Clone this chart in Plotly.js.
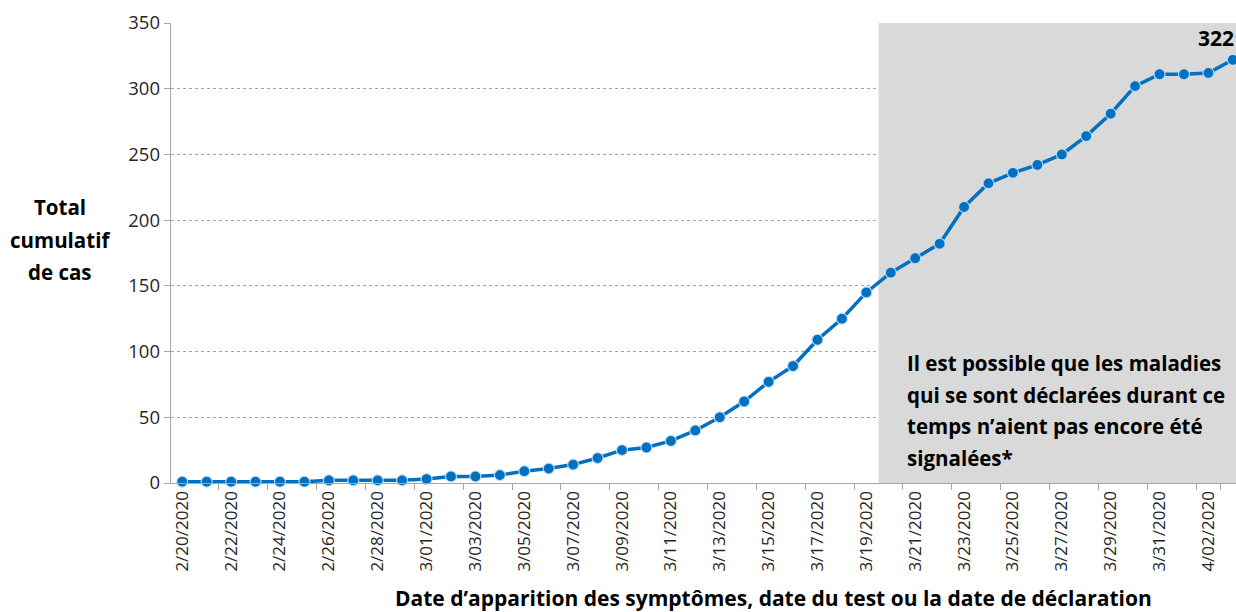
<!DOCTYPE html>
<html>
<head>
<meta charset="utf-8">
<script src="https://cdn.plot.ly/plotly-3.0.1.min.js"></script>
<style>html,body{margin:0;padding:0;background:#fff;}#chart{width:1236px;height:612px;}</style>
</head>
<body>
<div id="chart"></div>
<script>
const dates = ["2/20/2020","2/21/2020","2/22/2020","2/23/2020","2/24/2020","2/25/2020","2/26/2020","2/27/2020","2/28/2020","2/29/2020",
"3/01/2020","3/02/2020","3/03/2020","3/04/2020","3/05/2020","3/06/2020","3/07/2020","3/08/2020","3/09/2020","3/10/2020",
"3/11/2020","3/12/2020","3/13/2020","3/14/2020","3/15/2020","3/16/2020","3/17/2020","3/18/2020","3/19/2020","3/20/2020",
"3/21/2020","3/22/2020","3/23/2020","3/24/2020","3/25/2020","3/26/2020","3/27/2020","3/28/2020","3/29/2020","3/30/2020",
"3/31/2020","4/01/2020","4/02/2020","4/03/2020"];
const cumulativeCases = [1,1,1,1,1,1,2,2,2,2,
3,5,5,6,9,11,14,19,25,27,
32,40,50,62,77,89,109,125,145,160,
171,182,210,228,236,242,250,264,281,302,
311,311,312,322];
const yTicks = [0,50,100,150,200,250,300,350];
const yTitleLines = ["Total","cumulatif","de cas"];
const noteLines = ["Il est possible que les maladies","qui se sont déclarées durant ce","temps n’aient pas encore été","signalées*"];
const xTitle = "Date d’apparition des symptômes, date du test ou la date de déclaration";
const lastLabel = String(cumulativeCases[cumulativeCases.length-1]);
const shadeStart = "3/19/2020";

const FONT = "'Open Sans', 'Noto Sans', sans-serif";
const tickLabels = dates.filter((d,i)=>i%2===0);

const trace = {
  type: 'scatter', mode: 'lines+markers',
  x: dates, y: cumulativeCases,
  line: {color: '#0070C0', width: 3.5},
  marker: {color: '#0070C0', size: 11, line: {color: 'rgba(200,225,245,0.9)', width: 1.2}},
  cliponaxis: false, hoverinfo: 'x+y'
};

const annotations = [];
yTitleLines.forEach((t,i)=>{
  annotations.push({xref:'paper', yref:'paper', x:-0.104, y:1, yshift:-(207-23)-32.5*i, text:'<b>'+t+'</b>', showarrow:false,
    xanchor:'center', yanchor:'middle', font:{family:FONT, size:20.5, color:'#000'}});
});
noteLines.forEach((t,i)=>{
  annotations.push({xref:'paper', yref:'paper', x:(905-171)/1065, y:1, yshift:-(363-23)-31.6*i, text:'<b>'+t+'</b>', showarrow:false,
    xanchor:'left', yanchor:'middle', font:{family:FONT, size:20.5, color:'#000'}});
});
annotations.push({xref:'paper', yref:'paper', x:(773-171)/1065, y:0, yshift:-(598-483), text:'<b>'+xTitle+'</b>', showarrow:false,
  xanchor:'center', yanchor:'middle', font:{family:FONT, size:21, color:'#000'}});
annotations.push({xref:'x', yref:'y', x:dates[dates.length-1], y:cumulativeCases[cumulativeCases.length-1], yshift:22, xshift:-17,
  text:'<b>'+lastLabel+'</b>', showarrow:false, xanchor:'center', yanchor:'middle', font:{family:FONT, size:21, color:'#000'}});

const shadeIdx = dates.indexOf(shadeStart) + 0.5;

const layout = {
  width: 1236, height: 612,
  margin: {l:171, r:0, t:23, b:129, pad:0},
  paper_bgcolor:'#fff', plot_bgcolor:'#fff',
  showlegend:false,
  font: {family: FONT, color:'#262626'},
  xaxis: {
    type:'category', range:[-0.46, 43.13],
    tickmode:'array', tickvals: tickLabels, ticktext: tickLabels,
    tickangle:-90, tickson:'boundaries',
    ticks:'outside', ticklen:6, tickcolor:'#A6A6A6', tickwidth:1,
    showline:true, linecolor:'#A6A6A6', linewidth:1.3,
    showgrid:false, zeroline:false,
    tickfont:{family:FONT, size:17, color:'#262626'}, automargin:false
  },
  yaxis: {
    range:[0,350], tickvals:yTicks, ticktext:yTicks.map(String),
    ticks:'outside', ticklen:6, tickcolor:'#A6A6A6', tickwidth:1,
    showline:true, linecolor:'#A6A6A6', linewidth:1.3,
    showgrid:true, gridcolor:'#8C8C8C', griddash:'dot', gridwidth:0.8,
    zeroline:false, tickfont:{family:FONT, size:18.5, color:'#262626'}, automargin:false
  },
  shapes: [{type:'rect', layer:'between', xref:'x', yref:'y', x0:shadeIdx, x1:43.13, y0:0, y1:350,
    fillcolor:'#D9D9D9', line:{width:0}}],
  annotations: annotations
};
Plotly.newPlot('chart', [trace], layout, {staticPlot:true, displayModeBar:false});
</script>
</body>
</html>
